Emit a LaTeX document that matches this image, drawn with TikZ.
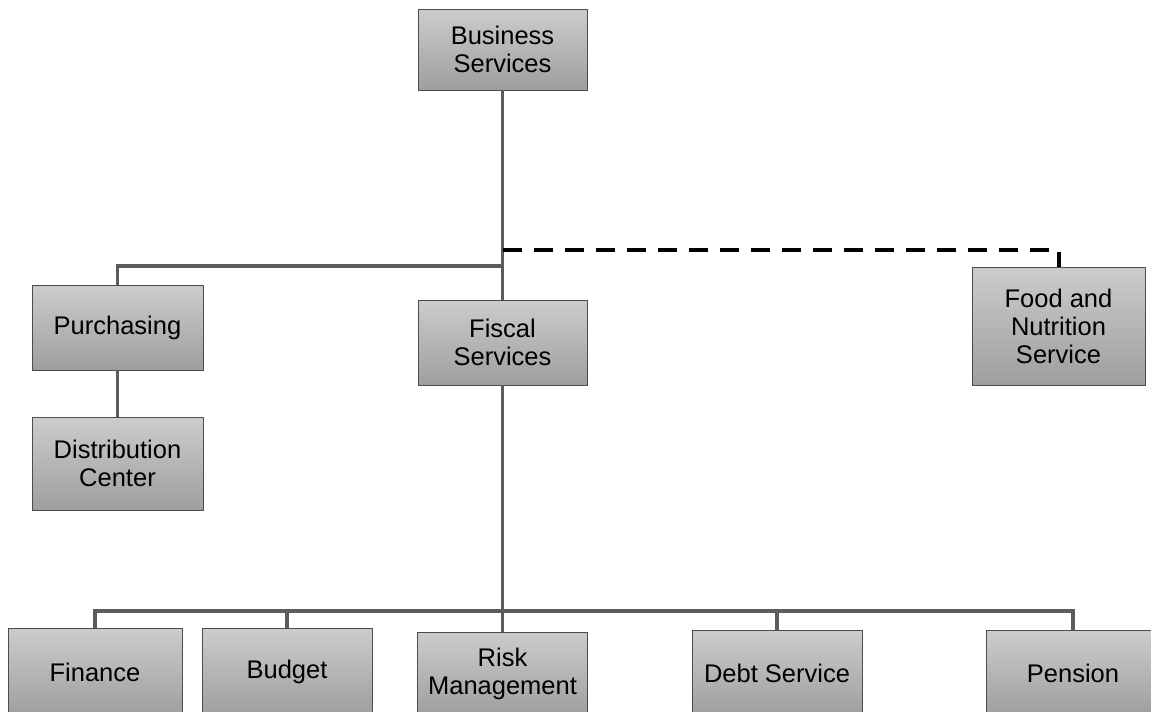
\documentclass[tikz,border=0pt]{standalone}
\usepackage{fontspec}
\setmainfont{Liberation Sans}
\begin{document}
\begin{tikzpicture}[x=1pt,y=-1pt,
  box/.style={draw=black!70, line width=0.8pt, top color=black!20, bottom color=black!38,
    align=center, inner sep=0pt, font=\fontsize{25.5}{28}\selectfont},
  conn/.style={draw=black!64, line width=3.8pt},
  dconn/.style={draw=black, line width=4pt, dash pattern=on 19pt off 12pt}]
\useasboundingbox (0,0) rectangle (1151,712);
\clip (0,0) rectangle (1151,712);
\fill[white] (0,0) rectangle (1151,712);
\coordinate (j1) at (502.5,266);
\coordinate (j2) at (502.5,250);
\coordinate (j3) at (502.5,611);
\node[box, minimum width=169pt, minimum height=81pt] (bs) at (502.5,49.5) {Business\\Services};
\node[box, minimum width=171pt, minimum height=85pt] (pur) at (117.5,327.5) {Purchasing};
\node[box, minimum width=169pt, minimum height=85pt] (fis) at (502.5,342.5) {Fiscal\\Services};
\node[box, minimum width=173pt, minimum height=118pt] (food) at (1058.5,326) {Food and\\Nutrition\\Service};
\node[box, minimum width=171pt, minimum height=93pt] (dist) at (117.5,463.5) {Distribution\\Center};
\node[box, minimum width=174pt, minimum height=88pt] (fin) at (95,672) {Finance};
\node[box, minimum width=170pt, minimum height=88pt] (bud) at (287,672) {Budget};
\node[box, minimum width=170pt, minimum height=84pt] (risk) at (502.5,674) {Risk\\Management};
\node[box, minimum width=170pt, minimum height=86pt] (debt) at (777,673) {Debt Service};
\node[box, minimum width=173pt, minimum height=86pt] (pen) at (1073,673) {Pension};
\draw[conn] (bs.south) -- (fis.north);
\draw[conn] (pur.north) |- (j1);
\draw[dconn] (j2) -| (food.north);
\draw[conn] (pur.south) -- (dist.north);
\draw[conn] (fis.south) -- (j3);
\draw[conn] (fin.north) |- (j3);
\draw[conn] (bud.north) |- (j3);
\draw[conn] (risk.north) -- (j3);
\draw[conn] (debt.north) |- (j3);
\draw[conn] (pen.north) |- (j3);
\end{tikzpicture}
\end{document}
